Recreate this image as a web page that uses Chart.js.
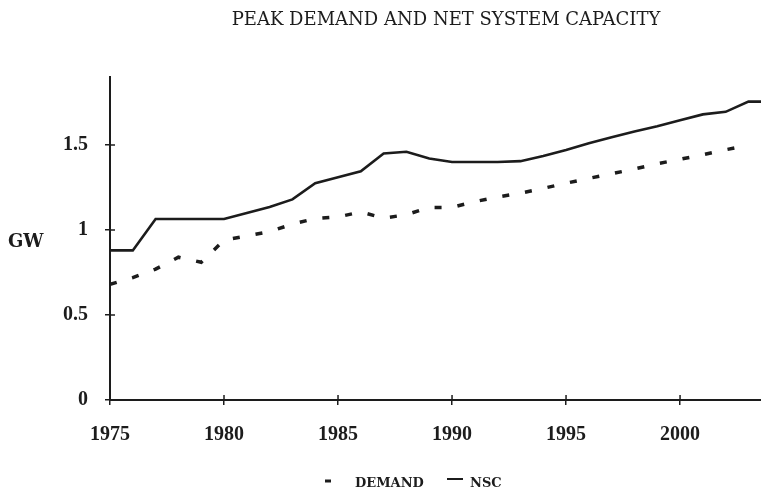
<!DOCTYPE html>
<html>
<head>
<meta charset="utf-8">
<script src="https://cdn.jsdelivr.net/npm/chart.js@4"></script>
<style>
  html, body { margin: 0; padding: 0; background: #fff; }
  #wrap { width: 761px; height: 489px; position: relative; }
</style>
</head>
<body>
<div id="wrap"><canvas id="chart" width="761" height="489"></canvas></div>
<script>
const titre = 'PEAK DEMAND AND NET SYSTEM CAPACITY';
const annees = [1975, 1976, 1977, 1978, 1979, 1980, 1981, 1982, 1983, 1984,
                1985, 1986, 1987, 1988, 1989, 1990, 1991, 1992, 1993, 1994,
                1995, 1996, 1997, 1998, 1999, 2000, 2001, 2002, 2003, 2004];
// net system capacity (solid)
const nsc = [0.88, 0.88, 1.065, 1.065, 1.065, 1.065, 1.10, 1.135, 1.18, 1.275,
             1.31, 1.345, 1.45, 1.46, 1.42, 1.40, 1.40, 1.40, 1.405, 1.435,
             1.47, 1.51, 1.545, 1.58, 1.61, 1.645, 1.68, 1.695, 1.755, 1.755];
// peak demand (dashed), last value 2003
const demande = [0.68, 0.72, 0.77, 0.84, 0.81, 0.94, 0.965, 0.99, 1.035, 1.067,
                 1.077, 1.106, 1.07, 1.09, 1.133, 1.133, 1.167, 1.194, 1.217, 1.245,
                 1.275, 1.304, 1.331, 1.359, 1.39, 1.416, 1.443, 1.472, 1.498];
const ticksY = [0, 0.5, 1, 1.5];
const ticksX = [1975, 1980, 1985, 1990, 1995, 2000];

const encre = '#1c1c1c';
const serif = '"DejaVu Serif", "Liberation Serif", serif';
const serifTicks = '"Liberation Serif", "DejaVu Serif", serif';

const points = (vals) => vals.map((v, i) => ({ x: annees[i], y: v }));

// tick marks on the inner side of the axes too
const ticksInternes = {
  id: 'ticksInternes',
  afterDraw(chart) {
    const { ctx, chartArea, scales } = chart;
    ctx.save();
    ctx.strokeStyle = encre;
    ctx.lineWidth = 1.5;
    ticksY.forEach(v => {
      const y = scales.y.getPixelForValue(v);
      ctx.beginPath(); ctx.moveTo(chartArea.left, y); ctx.lineTo(chartArea.left + 5, y); ctx.stroke();
    });
    ticksX.forEach(v => {
      const x = scales.x.getPixelForValue(v);
      ctx.beginPath(); ctx.moveTo(x, chartArea.bottom); ctx.lineTo(x, chartArea.bottom - 5); ctx.stroke();
    });
    ctx.restore();
  }
};

const textes = {
  id: 'textes',
  afterDraw(chart) {
    const ctx = chart.ctx;
    ctx.save();
    ctx.fillStyle = encre;
    ctx.textBaseline = 'alphabetic';

    ctx.font = '18px ' + serif;
    ctx.textAlign = 'center';
    ctx.fillText(titre, 446, 25);

    ctx.font = 'bold 18px ' + serif;
    ctx.textAlign = 'left';
    ctx.fillText('GW', 8, 247);

    // legend
    ctx.strokeStyle = encre;
    ctx.lineWidth = 3;
    ctx.beginPath(); ctx.moveTo(325, 481); ctx.lineTo(331, 481); ctx.stroke();
    ctx.lineWidth = 2;
    ctx.beginPath(); ctx.moveTo(447, 479); ctx.lineTo(463, 479); ctx.stroke();
    ctx.font = 'bold 13px ' + serif;
    ctx.fillText('DEMAND', 355, 487);
    ctx.fillText('NSC', 470, 487);
    ctx.restore();
  }
};

new Chart(document.getElementById('chart'), {
  type: 'line',
  data: {
    datasets: [
      {
        label: 'NSC',
        data: points(nsc),
        borderColor: encre,
        borderWidth: 2.6,
        pointRadius: 0,
        tension: 0
      },
      {
        label: 'DEMAND',
        data: points(demande),
        borderColor: encre,
        borderWidth: 3.5,
        borderDash: [7, 16],
        borderCapStyle: 'butt',
        pointRadius: 0,
        tension: 0
      }
    ]
  },
  options: {
    responsive: false,
    animation: false,
    layout: { padding: { left: 0, right: 0, top: 77, bottom: 49 } },
    plugins: { legend: { display: false }, title: { display: false }, tooltip: { enabled: false } },
    scales: {
      x: {
        type: 'linear',
        min: 1975,
        max: 2003.55,
        afterFit: (s) => { s.height = 40; },
        afterBuildTicks: (s) => { s.ticks = ticksX.map(v => ({ value: v })); },
        grid: { display: true, drawOnChartArea: false, tickLength: 5, color: encre, lineWidth: 1.5 },
        border: { display: true, color: encre, width: 2 },
        ticks: { color: encre, font: { family: serifTicks, size: 20, weight: 'bold' }, padding: 18, maxRotation: 0, callback: (v) => String(v) }
      },
      y: {
        min: 0,
        max: 1.9,
        afterFit: (s) => { s.width = 110; },
        afterBuildTicks: (s) => { s.ticks = ticksY.map(v => ({ value: v })); },
        grid: { display: true, drawOnChartArea: false, tickLength: 5, color: encre, lineWidth: 1.5 },
        border: { display: true, color: encre, width: 2 },
        ticks: { color: encre, font: { family: serifTicks, size: 20, weight: 'bold' }, padding: 17, callback: (v) => String(v) }
      }
    }
  },
  plugins: [ticksInternes, textes]
});
</script>
</body>
</html>
